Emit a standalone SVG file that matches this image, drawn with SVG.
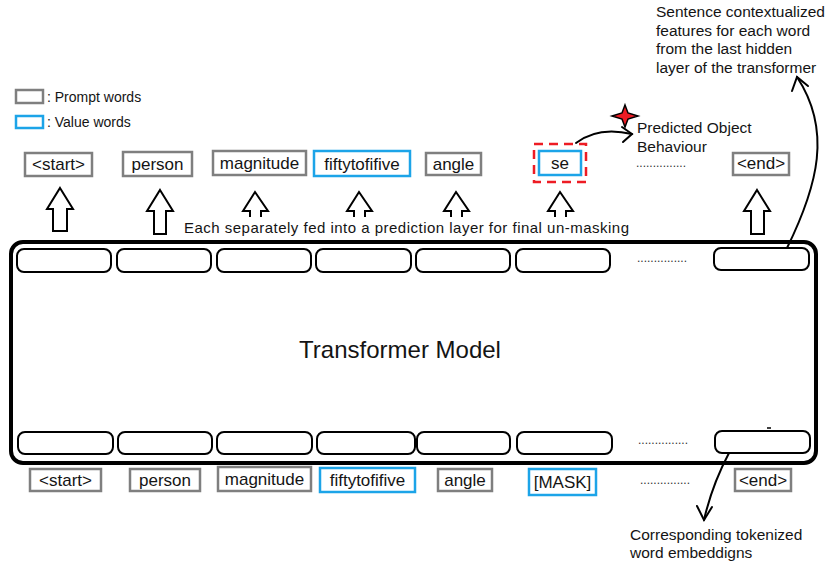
<svg xmlns="http://www.w3.org/2000/svg" width="829" height="564" viewBox="0 0 829 564">
<style>
text{font-family:"Liberation Sans",Arial,sans-serif;fill:#141414}
.lbl{font-size:15.5px}
.w{font-size:17px;text-anchor:middle}
.g{fill:#fff;stroke:#7f7f7f;stroke-width:2.5}
.b{fill:#fff;stroke:#1ca4e8;stroke-width:2.5}
.pill{fill:#fff;stroke:#000;stroke-width:2}
.ar{fill:#fff;stroke:#000;stroke-width:2;stroke-linejoin:miter}
.sa{fill:none;stroke:#000;stroke-width:2}
.ln{fill:none;stroke:#000;stroke-width:2;stroke-linecap:round}
.dots{font-size:12px;fill:#333}
</style>
<rect width="829" height="564" fill="#fff"/>

<g id="legend">
<rect class="g" x="16" y="90" width="27" height="13"/>
<text x="47" y="102" font-size="14">: Prompt words</text>
<rect class="b" x="16" y="116" width="27" height="12"/>
<text x="47" y="127" font-size="14">: Value words</text>
</g>

<g id="transformer">
<rect x="11" y="242" width="805" height="221" rx="12" fill="#fff" stroke="#000" stroke-width="4"/>
<text x="400" y="358" font-size="24" text-anchor="middle">Transformer Model</text>
<rect class="pill" x="17" y="249" width="94" height="23" rx="7"/>
<rect class="pill" x="117" y="249" width="94" height="23" rx="7"/>
<rect class="pill" x="217" y="249" width="94" height="23" rx="7"/>
<rect class="pill" x="316" y="249" width="95" height="23" rx="7"/>
<rect class="pill" x="416" y="249" width="94" height="23" rx="7"/>
<rect class="pill" x="516" y="249" width="94" height="23" rx="7"/>
<rect class="pill" x="714" y="248" width="95" height="22" rx="7"/>
<text class="dots" x="637" y="262">...............</text>
<rect class="pill" x="18" y="432" width="95" height="22" rx="7"/>
<rect class="pill" x="118" y="432" width="94" height="22" rx="7"/>
<rect class="pill" x="217" y="432" width="95" height="22" rx="7"/>
<rect class="pill" x="317" y="432" width="98" height="22" rx="7"/>
<rect class="pill" x="417" y="432" width="93" height="22" rx="7"/>
<rect class="pill" x="517" y="432" width="95" height="22" rx="7"/>
<rect class="pill" x="715" y="431" width="95" height="22" rx="7"/>
<text class="dots" x="638" y="444">...............</text>
</g>

<g id="top-words">
<g id="top-start"><rect class="g" x="25" y="153" width="67" height="23"/><text class="w" x="58.5" y="170" font-size="15">&lt;start&gt;</text></g>
<g id="top-person"><rect class="g" x="123" y="152" width="69" height="24"/><text class="w" x="157.5" y="170">person</text></g>
<g id="top-magnitude"><rect class="g" x="213" y="151" width="93" height="24"/><text class="w" x="259.5" y="169">magnitude</text></g>
<g id="top-fiftytofifive"><rect class="b" x="314" y="151" width="96" height="25"/><text class="w" x="362" y="170">fiftytofifive</text></g>
<g id="top-angle"><rect class="g" x="426" y="153" width="55" height="22"/><text class="w" x="453.5" y="170">angle</text></g>
<g id="top-se">
<rect x="534" y="144" width="52" height="38" fill="none" stroke="#ed1c24" stroke-width="2.5" stroke-dasharray="9,6"/>
<rect class="b" x="539" y="151" width="42" height="24"/><text class="w" x="560" y="169">se</text></g>
<g id="top-end"><rect class="g" x="733" y="153" width="56" height="22"/><text class="w" x="761" y="169" font-size="15">&lt;end&gt;</text></g>
<text class="dots" x="636" y="167">...............</text>
</g>

<g id="bottom-words">
<g id="bot-start"><rect class="g" x="30" y="469" width="71" height="22"/><text class="w" x="65.5" y="486" font-size="15">&lt;start&gt;</text></g>
<g id="bot-person"><rect class="g" x="130" y="469" width="70" height="22"/><text class="w" x="165" y="486">person</text></g>
<g id="bot-magnitude"><rect class="g" x="218" y="467" width="93" height="24"/><text class="w" x="264.5" y="485">magnitude</text></g>
<g id="bot-fiftytofifive"><rect class="b" x="320" y="468" width="95" height="24"/><text class="w" x="367.5" y="486">fiftytofifive</text></g>
<g id="bot-angle"><rect class="g" x="438" y="469" width="54" height="22"/><text class="w" x="465" y="486">angle</text></g>
<g id="bot-mask"><rect class="b" x="529" y="469" width="67" height="26"/><text class="w" x="562.5" y="488">[MASK]</text></g>
<text class="dots" x="640" y="484">...............</text>
<g id="bot-end"><rect class="g" x="735" y="469" width="56" height="22"/><text class="w" x="763" y="486" font-size="15">&lt;end&gt;</text></g>
</g>

<g id="caption-feed"><text x="184" y="233" font-size="15" textLength="445">Each separately fed into a prediction layer for final un-masking</text></g>

<g id="predicted-label">
<path d="M625,105 L628,113 L638,116 L628,119 L625,127 L622,119 L612,116 L622,113 Z" fill="#ed1c24" stroke="#000" stroke-width="1.5"/>
<text class="lbl" x="637" y="133">Predicted Object</text>
<text class="lbl" x="637" y="152">Behaviour</text>
</g>

<g id="context-label">
<text class="lbl" x="656" y="17">Sentence contextualized</text>
<text class="lbl" x="656" y="36">features for each word</text>
<text class="lbl" x="656" y="54">from the last hidden</text>
<text class="lbl" x="656" y="73">layer of the transformer</text>
</g>

<g id="embed-label">
<text class="lbl" x="630" y="540">Corresponding tokenized</text>
<text class="lbl" x="630" y="558">word embeddigns</text>
</g>

<g id="connectors">
<polygon class="ar" points="60,188 73,209 67,209 67,231 53,231 53,209 47,209"/>
<polygon class="ar" points="160,190 173,211 166,211 166,234 154,234 154,211 147,211"/>
<polygon class="ar" points="757,190 770,211 764,211 764,234 751,234 751,211 744,211"/>
<path class="sa" d="M250,217 V211 H243 L255,192 L268,211 H261 V217"/>
<path class="sa" d="M354,217 V211 H347 L359,192 L372,211 H365 V217"/>
<path class="sa" d="M451,217 V211 H444 L456,192 L469,211 H462 V217"/>
<path class="sa" d="M555,217 V211 H548 L560,192 L573,211 H566 V217"/>
<path class="ln" d="M576,143 Q598,126 632,134"/>
<path class="ln" d="M622,127 L632,134 L623,142"/>
<path class="ln" d="M787,248 C818,185 832,130 797,77"/>
<path class="ln" d="M792,91 L797,77 L808,86"/>
<path class="ln" d="M729,453 Q712,485 704,520"/>
<path class="ln" d="M697,506 L704,520 L712,507"/>
<path d="M767,428 L771,428" stroke="#000" stroke-width="1.5"/>
</g>
</svg>
